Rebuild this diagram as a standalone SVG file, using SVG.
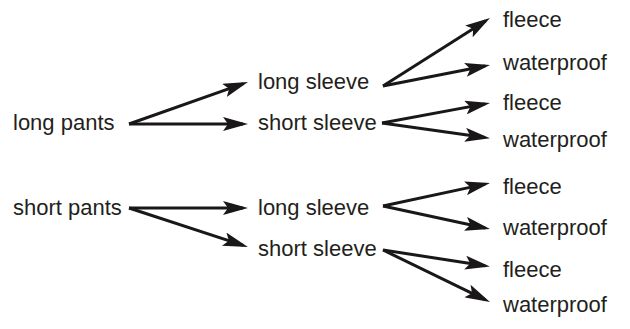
<svg xmlns="http://www.w3.org/2000/svg" width="630" height="329" viewBox="0 0 630 329">
<style>
text{font-family:"Liberation Sans",Arial,sans-serif;font-size:22px;fill:#231f20}
.c line{stroke:#1a1718;stroke-width:3;fill:none;marker-end:url(#ah)}
</style>
<defs>
<marker id="ah" markerUnits="userSpaceOnUse" viewBox="0 -7 25 14" markerWidth="25" markerHeight="14" refX="20" refY="0" orient="auto">
<path d="M0,-7 L25,0 L0,7 L5,0 Z" fill="#1a1718"/>
</marker>
</defs>
<rect width="630" height="329" fill="#fff"/>
<g class="c" id="connectors">
<line x1="129" y1="124" x2="243.3" y2="83.7"/>
<line x1="129" y1="124" x2="243" y2="124"/>
<line x1="383" y1="86" x2="485.8" y2="20.7"/>
<line x1="383" y1="86" x2="485.1" y2="66"/>
<line x1="382" y1="123" x2="485.1" y2="103.9"/>
<line x1="382" y1="123" x2="485" y2="137.6"/>
<line x1="129" y1="208" x2="243" y2="208"/>
<line x1="129" y1="208" x2="243.2" y2="245.4"/>
<line x1="383" y1="206" x2="485.1" y2="184.1"/>
<line x1="383" y1="206" x2="485.1" y2="228"/>
<line x1="383" y1="250" x2="485" y2="265.7"/>
<line x1="383" y1="250" x2="485.5" y2="299.8"/>
</g>
<g id="long-pants"><text x="13" y="130">long pants</text></g>
<g id="short-pants"><text x="13" y="215">short pants</text></g>
<g id="lp-long-sleeve"><text x="258" y="89">long sleeve</text></g>
<g id="lp-short-sleeve"><text x="258" y="130">short sleeve</text></g>
<g id="sp-long-sleeve"><text x="258" y="215">long sleeve</text></g>
<g id="sp-short-sleeve"><text x="258" y="256">short sleeve</text></g>
<g id="f1"><text x="503" y="27">fleece</text></g>
<g id="w1"><text x="503" y="70">waterproof</text></g>
<g id="f2"><text x="503" y="110">fleece</text></g>
<g id="w2"><text x="503" y="147">waterproof</text></g>
<g id="f3"><text x="503" y="194">fleece</text></g>
<g id="w3"><text x="503" y="235">waterproof</text></g>
<g id="f4"><text x="503" y="277">fleece</text></g>
<g id="w4"><text x="503" y="312">waterproof</text></g>
</svg>
